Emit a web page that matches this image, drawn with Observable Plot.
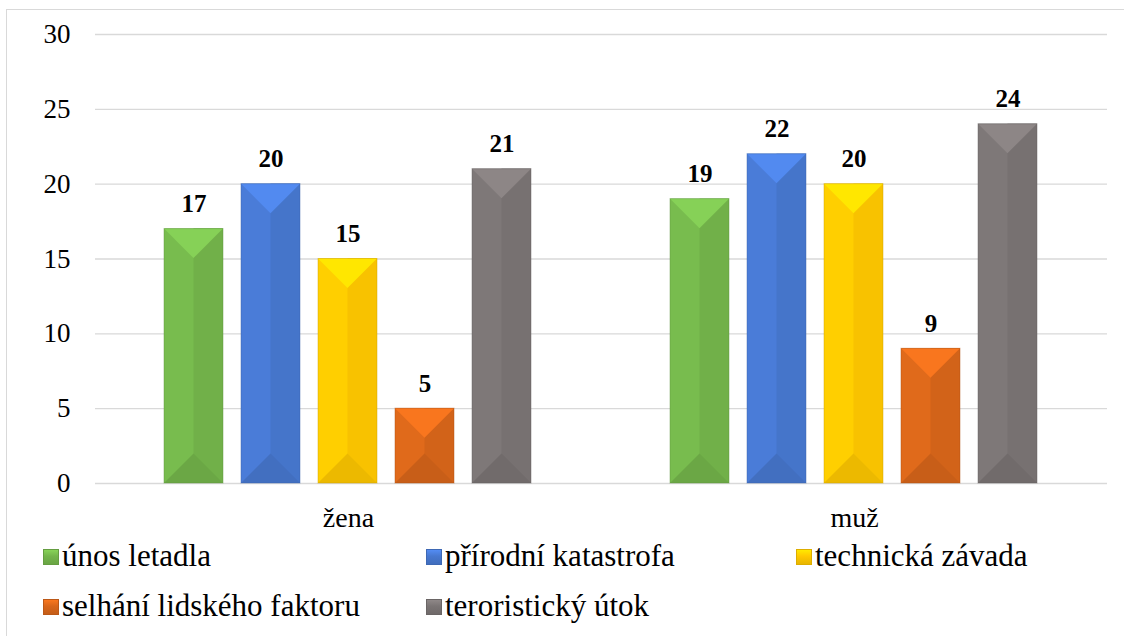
<!DOCTYPE html>
<html>
<head>
<meta charset="utf-8">
<script src="https://cdn.jsdelivr.net/npm/d3@7"></script>
<script src="https://cdn.jsdelivr.net/npm/@observablehq/plot@0.6"></script>
<style>
  html, body { margin: 0; padding: 0; background: #fff; }
  #wrap { position: relative; width: 1124px; height: 636px; overflow: hidden; font-family: "Liberation Serif", Tinos, "Nimbus Roman", "Times New Roman", Times, "DejaVu Serif", serif; }
  #frame { position: absolute; left: 6px; top: 9px; width: 1200px; height: 700px; border: 1px solid #d9d9d9; box-sizing: border-box; }
  #chart { position: absolute; left: 0; top: 0; }
  .leg { position: absolute; font-size: 31px; color: #000; white-space: nowrap; line-height: 1; }
  .sw { position: absolute; width: 16px; height: 16px; }
</style>
</head>
<body>
<div id="wrap">
  <div id="frame"></div>
  <div id="chart"></div>
  <div id="legend"></div>
</div>
<script>
const groups = ["žena", "muž"];
const series = ["únos letadla", "přírodní katastrofa", "technická závada", "selhání lidského faktoru", "teroristický útok"];
const zenaValues = [17, 20, 15, 5, 21];
const muzValues = [19, 22, 20, 9, 24];
const colors = ["#74b54b", "#4778d0", "#ffc800", "#d8661a", "#7a7474"];
const yTicks = [0, 5, 10, 15, 20, 25, 30];

const data = [];
series.forEach((s, i) => data.push({group: groups[0], series: s, value: zenaValues[i]}));
series.forEach((s, i) => data.push({group: groups[1], series: s, value: muzValues[i]}));

const font = '"Liberation Serif", Tinos, "Nimbus Roman", "Times New Roman", Times, "DejaVu Serif", serif';

const chart = Plot.plot({
  width: 1124,
  height: 535,
  marginLeft: 95,
  marginRight: 17,
  marginTop: 34,
  marginBottom: 52,
  style: {fontFamily: font, fontSize: "27px", color: "#000", background: "transparent", overflow: "visible"},
  fx: {domain: groups, padding: 0, label: null},
  x: {domain: series, paddingInner: 0.23, paddingOuter: 0.86, axis: null},
  y: {domain: [0, 30], ticks: yTicks, label: null},
  color: {domain: series, range: colors},
  marks: [
    Plot.gridY(yTicks, {stroke: "#d9d9d9", strokeOpacity: 1, strokeWidth: 1.3}),
    Plot.axisY(yTicks, {tickSize: 0, tickPadding: 25, label: null, fontSize: 27, fill: "#000"}),
    Plot.axisFx({tickSize: 0, tickPadding: 24, label: null, fontSize: 28, fill: "#000", anchor: "bottom"}),
    Plot.barY(data, {fx: "group", x: "series", y: "value", fill: "series"}),
    Plot.text(data, {fx: "group", x: "series", y: "value", text: d => String(d.value), dy: -25, fontWeight: "bold", fontSize: 25, fill: "#000"})
  ]
});
document.getElementById("chart").appendChild(chart);

// Bevel decoration drawn from library-rendered bar rects
const svgNS = "http://www.w3.org/2000/svg";
d3.select(chart).selectAll('g[aria-label="bar"] rect').each(function() {
  const r = this;
  const x = +r.getAttribute("x"), y = +r.getAttribute("y");
  const w = +r.getAttribute("width"), h = +r.getAttribute("height");
  const base = d3.color(r.getAttribute("fill"));
  const g = r.parentNode;
  const b = Math.min(w / 2, h / 2);
  const tr = r.getAttribute("transform");
  const add = (pts, fill) => {
    const p = document.createElementNS(svgNS, "polygon");
    p.setAttribute("points", pts.map(q => q.join(",")).join(" "));
    p.setAttribute("fill", fill);
    if (tr) p.setAttribute("transform", tr);
    g.appendChild(p);
    return p;
  };
  r.setAttribute("fill", base.brighter(0.1).formatHex());
  add([[x + w / 2, y], [x + w, y], [x + w, y + h], [x + w / 2, y + h]], base.darker(0.08).formatHex());
  add([[x, y], [x + w, y], [x + w / 2, y + b]], base.brighter(0.4).formatHex());
  add([[x, y + h], [x + w, y + h], [x + w / 2, y + h - b]], base.darker(0.22).formatHex());
  const o = document.createElementNS(svgNS, "rect");
  o.setAttribute("x", x); o.setAttribute("y", y); o.setAttribute("width", w); o.setAttribute("height", h);
  o.setAttribute("fill", "none"); o.setAttribute("stroke", base.darker(0.6).formatHex()); o.setAttribute("stroke-opacity", 0.45);
  if (tr) o.setAttribute("transform", tr);
  g.appendChild(o);
});

// Legend (HTML below the SVG area)
const legPos = [[62, 540], [445, 540], [815, 540], [62, 590], [445, 590]];
const leg = document.getElementById("legend");
series.forEach((s, i) => {
  const c = d3.color(colors[i]);
  const [lx, ly] = legPos[i];
  const sw = document.createElement("div");
  sw.className = "sw";
  sw.style.left = (lx - 19) + "px";
  sw.style.top = (ly + 9) + "px";
  sw.style.background = `linear-gradient(to bottom, ${c.brighter(0.5).formatHex()} 0%, ${c.formatHex()} 45%, ${c.darker(0.3).formatHex()} 100%)`;
  sw.style.boxShadow = `inset 0 0 0 1px ${c.darker(0.4).formatHex()}`;
  leg.appendChild(sw);
  const t = document.createElement("div");
  t.className = "leg";
  t.style.left = lx + "px";
  t.style.top = ly + "px";
  t.textContent = s;
  leg.appendChild(t);
});
</script>
</body>
</html>
